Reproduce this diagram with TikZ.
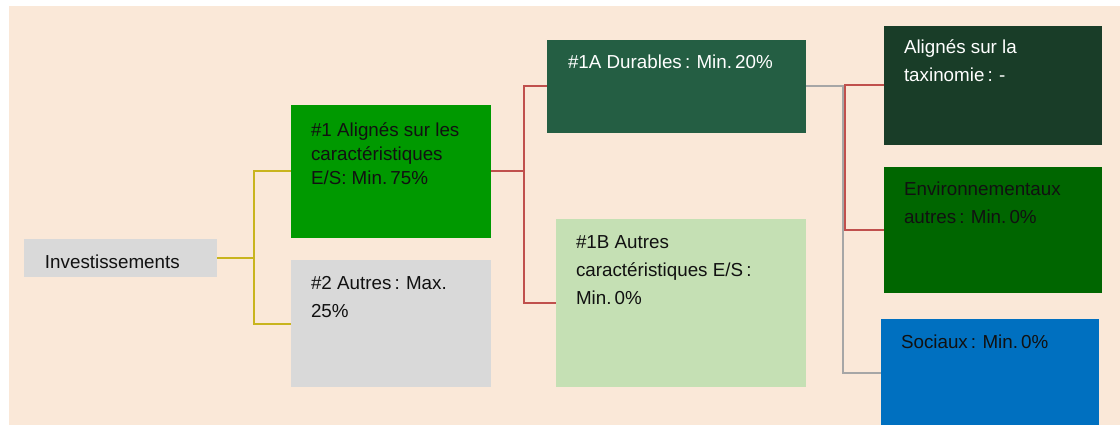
\documentclass[tikz,border=0pt]{standalone}
\usepackage{fontspec}
\setmainfont{Liberation Sans}
\definecolor{bgc}{HTML}{FAE8D8}
\definecolor{cone}{HTML}{009900}
\definecolor{ctwo}{HTML}{D9D9D9}
\definecolor{conea}{HTML}{245E43}
\definecolor{coneb}{HTML}{C5E0B4}
\definecolor{calg}{HTML}{193D28}
\definecolor{cenv}{HTML}{006600}
\definecolor{csoc}{HTML}{0070C0}
\definecolor{lyel}{HTML}{C8B41E}
\definecolor{lred}{HTML}{C0504D}
\definecolor{lgry}{HTML}{A6A6A6}
\definecolor{ink}{HTML}{111111}
\newcommand\lns[1]{\begin{tabular}[t]{@{}l@{}}#1\end{tabular}}
\newcommand\cl{\,:\,\,}
\tikzset{
  box/.style={draw=none, inner sep=0pt, outer sep=0pt, anchor=north west},
  txt/.style={inner sep=0pt, outer sep=0pt, anchor=base west, text=ink,
    font=\fontsize{18.8}{28}\selectfont\renewcommand\arraystretch{1}},
  txttight/.style={txt, font=\fontsize{18.8}{24}\selectfont\renewcommand\arraystretch{1}},
  wtxt/.style={txt, text=white},
  conn/.style={line width=2pt},
}
\begin{document}
\begin{tikzpicture}[x=1pt,y=-1pt]
\useasboundingbox (0,0) rectangle (1120,425);
\fill[bgc] (9,6) rectangle (1120,425);
% boxes
\node[box, fill=ctwo, minimum width=193pt, minimum height=38pt] (inv) at (24,239) {};
\node[box, fill=cone, minimum width=200pt, minimum height=133pt] (n1) at (291,105) {};
\node[box, fill=ctwo, minimum width=200pt, minimum height=127pt] (n2) at (291,260) {};
\node[box, fill=conea, minimum width=259pt, minimum height=93pt] (d1a) at (547,40) {};
\node[box, fill=coneb, minimum width=250pt, minimum height=168pt] (d1b) at (556,219) {};
\node[box, fill=calg, minimum width=218pt, minimum height=119pt] (alg) at (884,26) {};
\node[box, fill=cenv, minimum width=218pt, minimum height=126pt] (env) at (884,167) {};
\node[box, fill=csoc, minimum width=218pt, minimum height=108pt] (soc) at (881,319) {};
% texts
\node[txt] (invt) at (45,268) {Investissements};
\node[txttight] (n1t) at (311,137) {\lns{\#1 Alignés sur les\\caractéristiques\\E/S: Min.\,75\%}};
\node[txt] (n2t) at (311,289) {\lns{\#2 Autres\cl Max.\\25\%}};
\node[wtxt] (d1at) at (568,69) {\#1A Durables\cl Min.\,20\%};
\node[txt] (d1bt) at (576,248) {\lns{\#1B Autres\\caractéristiques E/S\,:\\Min.\,0\%}};
\node[wtxt] (algt) at (904,54) {\lns{Alignés sur la\\taxinomie\cl -}};
\node[txt] (envt) at (904,196) {\lns{Environnementaux\\autres\cl Min.\,0\%}};
\node[txt] (soct) at (901,348) {Sociaux\cl Min.\,0\%};
% connectors
\draw[conn, lyel] (inv.east) -- ++(37,0) coordinate (jy) |- (n1.west);
\draw[conn, lyel] (jy) |- (n2.west);
\draw[conn, lred] (n1.east) -- ++(33,0) coordinate (jr) |- (d1a.west);
\draw[conn, lred] (jr) |- (d1b.west);
\draw[conn, lgry] (d1a.east) -- ++(37,0) |- (soc.west);
\draw[conn, lred] (alg.west) -- ++(-39,0) coordinate (jr2) |- (env.west);
\end{tikzpicture}
\end{document}
